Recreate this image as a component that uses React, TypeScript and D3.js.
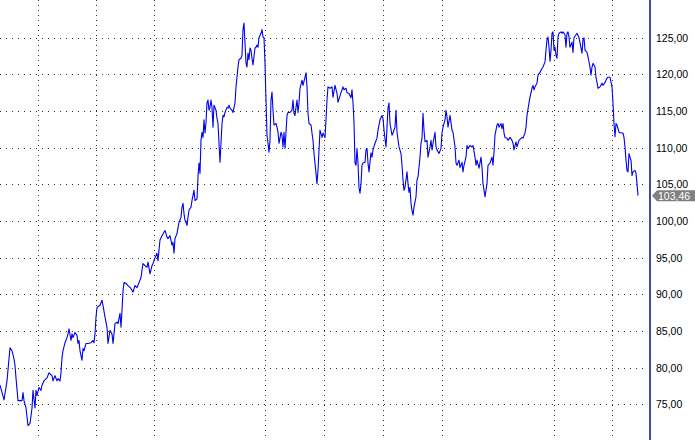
import React, { useEffect, useRef } from 'react';
import * as d3 from 'd3';

const W = 695;
const H = 440;

const yTicks = [75, 80, 85, 90, 95, 100, 105, 110, 115, 120, 125];
const gridDays = [38, 96, 154, 265, 324, 383, 442, 554, 612];
const lastClose = 103.46;

// [trading day, close]
const priceData: [number, number][] = [
  [0,77.6],[4,75.6],[7,78.2],[10,82.7],[12,82.3],[14,81.2],[15,80.3],[16,78.6],[18,75.5],[22,75.5],[23,76.6],[24,75.5],[26,74.5],[28,72.1],[30,72.4],[32,74.5],[33,76.9],[35,74.5],[36,76.9],[37,76.2],[39,77.3],[41,76.9],[42,77.6],[44,78.2],[47,78.6],[49,79.3],[52,78.9],[53,78.2],[55,78.9],[57,78.2],[58,78.5],[60,78.2],[61,79.3],[62,81.4],[63,82.3],[65,83.4],[67,84.1],[68,84.6],[69,85.3],[71,83.7],[72,84.6],[73,84.1],[75,84.8],[77,84.4],[78,83.3],[79,83.7],[80,82.3],[82,81.0],[83,82.6],[84,82.3],[86,83.3],[88,83.3],[91,83.4],[93,83.7],[94,83.4],[95,84.6],[96,86.9],[97,88.2],[100,88.5],[102,89.2],[103,88.5],[105,86.9],[107,85.5],[108,83.3],[110,85.1],[112,84.6],[113,83.3],[115,86.0],[117,86.2],[118,86.0],[120,87.4],[121,85.5],[122,87.8],[123,90.5],[124,91.6],[126,91.5],[128,91.2],[131,90.8],[133,90.3],[135,91.2],[137,90.9],[139,91.6],[141,92.3],[142,93.3],[143,94.2],[145,93.9],[147,93.7],[148,94.4],[150,92.8],[152,93.9],[153,94.2],[155,95.0],[157,95.6],[158,94.6],
  [160,97.4],[162,98.0],[165,98.7],[167,97.8],[168,97.6],[170,98.0],[172,96.7],[173,97.1],[174,95.6],[175,97.6],[177,98.3],[178,99.1],[179,99.8],[181,100.5],[182,101.9],[183,102.4],[184,101.0],[185,100.1],[186,99.8],[187,99.4],[188,100.5],[189,101.5],[191,101.9],[192,102.8],[193,103.5],[194,104.2],[195,102.8],[197,103.0],[198,106.0],[199,107.9],[200,106.5],[201,111.0],[202,112.1],[203,111.4],[204,113.8],[205,112.0],[206,113.4],[207,116.1],[208,116.5],[209,115.1],[210,115.5],[211,116.5],[212,115.5],[213,112.8],[214,115.8],[216,115.1],[217,114.0],[218,113.3],[219,110.6],[220,108.0],[221,110.6],[222,113.3],[223,114.4],[224,114.2],[225,114.8],[227,115.5],[228,115.4],[229,115.8],[230,115.4],[232,115.1],[233,114.8],[235,116.1],[236,118.3],[237,119.6],[238,121.0],[239,122.0],[241,122.2],[242,122.6],[243,126.1],[244,127.0],[245,124.3],[246,121.5],[247,121.0],[248,122.9],[249,122.0],[250,123.6],[251,123.3],[252,122.2],[253,121.3],[255,123.6],[256,123.7],[257,124.0],[258,123.7],[259,125.0],[261,125.6],[262,126.1],[263,125.1],[264,125.0],[265,121.5],[266,116.5],[267,111.7],[268,110.6],[269,109.4],[270,111.0],[271,116.5],[272,117.6],[273,115.1],[274,113.1],[276,113.3],[277,112.8],[278,112.1],[279,110.6],[281,112.1],[282,111.7],[283,110.1],[284,112.1],[285,109.9],[286,112.1],[287,114.4],[288,114.8],[290,114.8],[292,115.1],[293,116.5],[294,114.7],[295,114.4],[296,115.5],[297,116.5],[298,114.8],[299,116.1],[300,118.1],[302,119.2],[303,118.5],[305,119.6],[306,120.2],[307,118.3],[308,114.7],[309,113.3],[311,113.1],[312,112.0],[313,111.0],[314,109.2],[316,106.5],[317,105.1],[318,106.9],[319,109.6],[320,112.4],[322,111.4],[323,112.0],[325,111.4],[326,113.8],[327,116.5],[328,118.3],[330,118.1],
  [332,118.3],[333,116.9],[335,118.5],[337,117.4],[338,116.2],[341,117.5],[343,118.3],[344,117.9],[346,118.1],[347,117.5],[349,117.4],[351,116.8],[352,117.9],[353,116.1],[354,113.5],[355,107.9],[356,107.6],[357,109.9],[358,107.9],[359,104.5],[360,103.8],[361,105.1],[362,107.6],[363,107.9],[365,108.0],[366,109.7],[367,109.9],[368,107.9],[369,106.7],[371,109.3],[372,108.7],[373,109.7],[375,110.6],[377,111.3],[378,112.4],[380,113.8],[382,114.4],[383,114.0],[384,112.4],[386,110.1],[387,112.8],[388,115.4],[389,116.1],[390,113.3],[392,111.7],[393,112.0],[395,112.8],[396,115.1],[397,112.1],[399,110.1],[401,109.2],[402,107.6],[403,105.6],[404,104.2],[405,104.6],[407,106.7],[408,105.1],[409,103.9],[410,104.6],[411,102.4],[412,101.4],[413,100.8],[414,101.9],[416,103.3],[417,105.6],[418,106.0],[420,108.7],[421,110.6],[422,111.3],[423,114.7],[424,112.4],[425,110.8],[427,111.0],[428,108.7],[430,110.1],[431,111.0],[432,109.7],[433,110.6],[435,112.1],[436,110.1],[437,109.7],[439,109.2],[441,109.9],[442,112.0],[443,112.8],[445,113.8],[446,115.1],[447,114.2],[448,112.8],[450,114.4],[452,112.4],[453,112.1],[455,110.1],[456,107.9],[457,107.6],[459,108.3],[460,107.3],[462,108.0],[463,106.7],[464,107.6],[466,108.7],[467,110.3],[468,109.9],[470,110.3],[472,110.1],[473,110.3],[475,108.7],[476,107.6],[477,108.3],[479,107.2],[481,108.7],[482,107.3],[483,105.1],[484,104.2],[485,103.3],[487,105.1],[488,107.6],[490,107.9],[492,108.7],[493,107.6],[494,109.4],[495,111.7],[497,113.1],[498,113.3],[499,112.8],
  [501,113.3],[502,112.6],[503,113.3],[504,112.0],[505,111.4],[507,111.3],[508,111.0],[510,111.4],[512,111.0],[513,110.6],[514,109.7],[516,110.8],[517,110.1],[519,111.0],[522,111.4],[523,111.3],[525,112.0],[526,112.8],[527,114.4],[529,116.1],[530,116.9],[532,118.1],[533,118.5],[534,117.9],[535,118.3],[537,118.8],[538,119.9],[540,120.3],[542,120.8],[543,121.0],[545,121.7],[546,123.3],[547,124.7],[548,125.1],[549,123.7],[550,121.8],[551,123.3],[552,125.6],[553,125.8],[554,123.3],[555,123.7],[556,122.6],[557,122.2],[558,125.1],[559,125.6],[561,125.8],[562,125.6],[563,125.8],[565,125.4],[566,123.7],[567,125.6],[568,125.8],[569,125.1],[570,123.7],[572,124.4],[573,123.0],[574,125.0],[576,125.4],[577,125.6],[579,125.0],[581,123.6],[582,122.9],[583,124.7],[584,125.0],[585,123.3],[587,123.0],[588,122.4],[590,121.0],[591,119.9],[592,121.0],[593,121.5],[595,121.0],[596,119.6],[597,118.9],[598,118.1],[600,118.3],[602,118.8],[603,118.5],[605,118.9],[607,119.5],[608,119.6],[610,119.6],[612,118.3],[613,116.1],[614,113.3],[615,111.5],[616,113.3],[617,113.1],[619,112.1],[621,112.0],[623,112.0],[624,111.4],[625,110.1],[626,108.3],[627,106.9],[628,106.7],[629,109.2],[630,108.7],[631,108.3],[632,106.2],[633,106.7],[635,106.9],[636,106.5],[637,105.1],[638,103.46],
];

const fmt = d3.formatLocale({ decimal: ',', thousands: '.', grouping: [3], currency: ['', ''] }).format('.2f');

export default function App() {
  const ref = useRef<SVGSVGElement | null>(null);

  useEffect(() => {
    const svg = d3.select(ref.current);
    svg.selectAll('*').remove();

    const x = d3.scaleLinear().domain([0, 638]).range([0, 638]);
    const y = d3.scaleLinear().domain([75, 125]).range([404.3, 37.7]);
    const axisX = 650;

    svg.append('rect').attr('width', W).attr('height', H).attr('fill', '#ffffff');

    // horizontal grid
    svg.append('g').selectAll('line').data(yTicks).join('line')
      .attr('x1', 0).attr('x2', axisX - 3)
      .attr('y1', (d) => Math.round(y(d)) + 0.5)
      .attr('y2', (d) => Math.round(y(d)) + 0.5)
      .attr('stroke', '#333')
      .attr('stroke-width', 1)
      .attr('stroke-dasharray', '1,5');

    // vertical grid
    svg.append('g').selectAll('line').data(gridDays).join('line')
      .attr('x1', (d) => Math.round(x(d)) + 0.5)
      .attr('x2', (d) => Math.round(x(d)) + 0.5)
      .attr('y1', 0).attr('y2', H)
      .attr('stroke', '#333')
      .attr('stroke-width', 1)
      .attr('stroke-dasharray', '1,4');

    // price axis line
    svg.append('line')
      .attr('x1', axisX).attr('x2', axisX).attr('y1', 0).attr('y2', H)
      .attr('stroke', '#1a1a8c').attr('stroke-width', 1.6);

    // tick labels
    svg.append('g').selectAll('text').data(yTicks).join('text')
      .attr('x', 656)
      .attr('y', (d) => Math.round(y(d)) + 4)
      .attr('font-family', '"Liberation Sans", Arial, sans-serif')
      .attr('font-size', 10.5)
      .attr('fill', '#000')
      .text((d) => fmt(d));

    // price line
    const line = d3.line<[number, number]>()
      .x((d) => x(d[0]))
      .y((d) => y(d[1]));
    svg.append('path')
      .datum(priceData)
      .attr('d', line)
      .attr('fill', 'none')
      .attr('stroke', '#0000f0')
      .attr('stroke-width', 1.1)
      .attr('stroke-linejoin', 'round');

    // last value marker
    const ly = y(lastClose);
    const g = svg.append('g');
    g.append('path')
      .attr('d', `M652,${ly} L657,${ly - 5.5} L${W},${ly - 5.5} L${W},${ly + 5.5} L657,${ly + 5.5} Z`)
      .attr('fill', '#808080');
    g.append('text')
      .attr('x', 658)
      .attr('y', ly + 4)
      .attr('font-family', '"Liberation Sans", Arial, sans-serif')
      .attr('font-size', 10.5)
      .attr('fill', '#ffffff')
      .text(fmt(lastClose));
  }, []);

  return (
    <svg
      ref={ref}
      width={W}
      height={H}
      style={{ position: 'absolute', left: 0, top: 0, display: 'block' }}
    />
  );
}
